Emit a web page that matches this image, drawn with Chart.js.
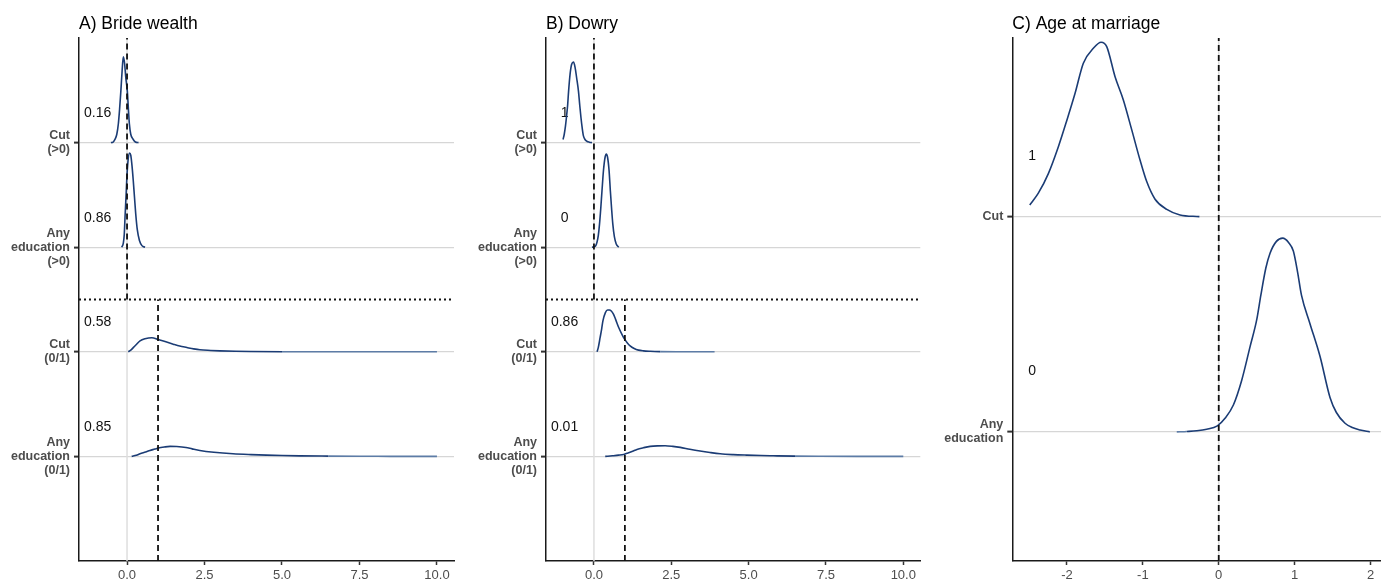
<!DOCTYPE html>
<html>
<head>
<meta charset="utf-8">
<script src="https://cdn.jsdelivr.net/npm/chart.js@4.4.1/dist/chart.umd.min.js"></script>
<style>
  html, body { margin: 0; padding: 0; background: #fff; }
  #wrap { position: relative; width: 1381px; height: 581px; overflow: hidden; background: #fff; }
  canvas { position: absolute; top: 0; }
</style>
</head>
<body>
<div id="wrap">
  <canvas id="panelA" width="470" height="581" style="left:0px"></canvas>
  <canvas id="panelB" width="460" height="581" style="left:470px"></canvas>
  <canvas id="panelC" width="451" height="581" style="left:930px"></canvas>
</div>
<script>
// ---- category labels (bottom to top) ----
const categoriesAB = [
  ['Any', 'education', '(0/1)'],
  ['Cut', '(0/1)'],
  ['Any', 'education', '(>0)'],
  ['Cut', '(>0)']
];
const categoriesC = [
  ['Any', 'education'],
  ['Cut']
];

// ---- posterior probability labels, same order as categories ----
const probBride = ['0.85', '0.58', '0.86', '0.16'];
const probDowry = ['0.01', '0.86', '0', '1'];
const probAge = ['0', '1'];

// ---- x tick values ----
const ticksAB = [0, 2.5, 5, 7.5, 10];
const ticksC = [-2, -1, 0, 1, 2];

// ---- ridge curves: [x, height above the category baseline] ----
const brideEduBin = [[0.15,0],[0.3,0.01],[0.42,0.025],[0.6,0.042],[0.74,0.057],[0.9,0.07],[1.01,0.08],[1.2,0.09],[1.39,0.096],[1.6,0.094],[1.9,0.085],[2.1,0.072],[2.35,0.057],[2.8,0.04],[3.42,0.025],[4.0,0.017],[4.5,0.012],[5.0,0.008],[5.58,0.005],[6.5,0.003],[7.5,0.0015],[8.5,0.0007],[10,0]];
const brideCutBin = [[0.04,0],[0.12,0.015],[0.2,0.04],[0.3,0.07],[0.42,0.105],[0.58,0.125],[0.8,0.135],[1.0,0.118],[1.2,0.1],[1.49,0.073],[1.7,0.055],[1.93,0.041],[2.15,0.028],[2.35,0.019],[2.7,0.013],[3.0,0.009],[3.5,0.005],[4.0,0.003],[5,0.001],[6,0.0005],[8,0],[10,0]];
const brideEduPos = [[-0.17,0],[-0.12,0.04],[-0.09,0.12],[-0.06,0.32],[-0.03,0.5],[-0.01,0.64],[0.03,0.82],[0.08,0.9],[0.12,0.88],[0.16,0.78],[0.2,0.64],[0.24,0.48],[0.28,0.32],[0.33,0.17],[0.40,0.064],[0.48,0.015],[0.58,0]];
const brideCutPos = [[-0.52,0],[-0.45,0.005],[-0.39,0.03],[-0.33,0.08],[-0.28,0.18],[-0.24,0.32],[-0.20,0.49],[-0.16,0.68],[-0.12,0.82],[-0.08,0.76],[-0.04,0.62],[0.01,0.49],[0.04,0.34],[0.075,0.18],[0.12,0.08],[0.2,0.03],[0.27,0.006],[0.37,0]];

const dowryEduBin = [[0.365,0],[0.6,0.006],[0.8,0.012],[0.96,0.019],[1.1,0.033],[1.25,0.05],[1.39,0.067],[1.6,0.083],[1.82,0.096],[2.05,0.101],[2.3,0.102],[2.55,0.096],[2.79,0.086],[3.1,0.068],[3.43,0.051],[3.75,0.037],[4.08,0.025],[4.5,0.017],[4.94,0.012],[5.4,0.008],[5.8,0.006],[6.5,0.003],[7.3,0.0015],[8.5,0.0006],[10,0]];
const dowryCutBin = [[0.1,0],[0.14,0.04],[0.2,0.137],[0.25,0.22],[0.29,0.296],[0.37,0.375],[0.44,0.40],[0.5,0.40],[0.56,0.39],[0.63,0.36],[0.7,0.31],[0.8,0.232],[0.9,0.17],[0.99,0.121],[1.08,0.085],[1.17,0.057],[1.3,0.032],[1.44,0.016],[1.6,0.009],[1.82,0.005],[2.14,0.002],[2.8,0.0005],[3.9,0]];
const dowryEduPos = [[-0.065,0],[0.05,0.01],[0.1,0.05],[0.14,0.11],[0.18,0.22],[0.22,0.37],[0.26,0.54],[0.31,0.74],[0.36,0.86],[0.40,0.89],[0.44,0.86],[0.49,0.73],[0.53,0.54],[0.57,0.37],[0.61,0.22],[0.66,0.1],[0.72,0.03],[0.8,0]];
const dowryCutPos = [[-1.0,0.03],[-0.96,0.08],[-0.92,0.16],[-0.89,0.24],[-0.85,0.36],[-0.82,0.49],[-0.77,0.66],[-0.72,0.75],[-0.66,0.77],[-0.61,0.72],[-0.56,0.62],[-0.5,0.49],[-0.46,0.36],[-0.42,0.24],[-0.38,0.14],[-0.34,0.064],[-0.29,0.03],[-0.23,0.013],[-0.15,0.004],[-0.065,0]];

const ageEdu = [[-0.553,0],[-0.42,0.002],[-0.29,0.005],[-0.158,0.012],[-0.018,0.028],[0.083,0.063],[0.193,0.125],[0.303,0.24],[0.413,0.396],[0.50,0.52],[0.555,0.635],[0.62,0.76],[0.676,0.83],[0.76,0.885],[0.843,0.90],[0.92,0.88],[0.983,0.84],[1.04,0.74],[1.09,0.635],[1.2,0.505],[1.335,0.35],[1.466,0.16],[1.55,0.09],[1.664,0.04],[1.76,0.02],[1.862,0.009],[1.99,0]];
const ageCut = [[-2.49,0.054],[-2.377,0.109],[-2.245,0.20],[-2.113,0.325],[-2.0,0.449],[-1.893,0.573],[-1.784,0.713],[-1.652,0.782],[-1.55,0.81],[-1.476,0.79],[-1.366,0.65],[-1.257,0.542],[-1.146,0.403],[-1.037,0.263],[-0.949,0.163],[-0.839,0.081],[-0.685,0.034],[-0.51,0.008],[-0.255,0]];

// ---- reference values ----
const nullTopAB = 0;      // dashed reference for the (>0) rows
const nullBottomAB = 1;   // dashed reference for the (0/1) rows
const splitAB = 2.5;      // dotted divider between row groups
const nullC = 0;

const FONT = '"Liberation Sans", Arial, Helvetica, sans-serif';
const LINE = '#1b3c75';
const TAIL = '#5d7ca6';

function ridgeDataset(points, level) {
  return {
    data: points.map(p => ({ x: p[0], y: level + p[1] })),
    showLine: true,
    borderColor: LINE,
    borderWidth: 1.6,
    pointRadius: 0,
    cubicInterpolationMode: 'monotone',
    fill: false,
    order: 3,
    segment: {
      borderColor: ctx => (ctx.p0.parsed.y - level < 0.003 && ctx.p1.parsed.y - level < 0.003) ? TAIL : undefined
    }
  };
}

function lineDataset(pts, color, width, dash, order) {
  return {
    data: pts.map(p => ({ x: p[0], y: p[1] })),
    showLine: true,
    borderColor: color,
    borderWidth: width,
    borderDash: dash,
    pointRadius: 0,
    fill: false,
    order: order
  };
}

function makePanel(id, cfg) {
  const datasets = [];
  cfg.refs.forEach(r => datasets.push(r));
  cfg.curves.forEach((c, i) => datasets.push(ridgeDataset(c, i + 1)));

  const panelText = {
    id: 'panelText',
    beforeDatasetsDraw(chart) {
      const ctx = chart.ctx;
      const xs = chart.scales.x, ys = chart.scales.y;
      ctx.save();
      ctx.fillStyle = '#111';
      ctx.font = '14px ' + FONT;
      ctx.textAlign = 'center';
      ctx.textBaseline = 'middle';
      cfg.probs.forEach((t, i) => {
        ctx.fillText(t, xs.getPixelForValue(cfg.labelX), ys.getPixelForValue(i + 1 + 0.28));
      });
      ctx.restore();
    },
    afterDraw(chart) {
      const ctx = chart.ctx;
      ctx.save();
      ctx.fillStyle = '#000';
      ctx.font = '17.5px ' + FONT;
      ctx.textAlign = 'left';
      ctx.textBaseline = 'alphabetic';
      ctx.fillText(cfg.title, chart.chartArea.left, 28.5);
      ctx.restore();
    }
  };

  return new Chart(document.getElementById(id), {
    type: 'scatter',
    data: { datasets },
    plugins: [panelText],
    options: {
      responsive: false,
      animation: false,
      events: [],
      layout: { padding: { top: 38, right: cfg.padRight, left: 0, bottom: 0 } },
      plugins: { legend: { display: false }, tooltip: { enabled: false } },
      scales: {
        x: {
          type: 'linear',
          min: cfg.xMin,
          max: cfg.xMax,
          afterBuildTicks: s => { s.ticks = cfg.xTicks.map(v => ({ value: v })); },
          afterFit: s => { s.height = 20; s.paddingLeft = 0; s.paddingRight = 0; },
          ticks: {
            callback: cfg.fmt,
            color: '#4d4d4d',
            font: { family: FONT, size: 13 },
            padding: 3,
            maxRotation: 0,
            autoSkip: false
          },
          grid: { drawOnChartArea: false, drawTicks: true, tickLength: 4, tickColor: '#333', tickWidth: 1.5, color: '#333' },
          border: { display: true, color: '#1a1a1a', width: 1.5 }
        },
        y: {
          type: 'linear',
          min: cfg.yMin,
          max: cfg.yMax,
          afterBuildTicks: s => { s.ticks = cfg.cats.map((c, i) => ({ value: i + 1 })); },
          afterFit: s => { s.width = cfg.axisW; s.paddingTop = 0; s.paddingBottom = 0; },
          ticks: {
            callback: v => cfg.cats[Math.round(v) - 1],
            color: '#4d4d4d',
            font: { family: FONT, size: 12.5, weight: 'bold', lineHeight: 1.12 },
            padding: 4,
            autoSkip: false
          },
          grid: { color: '#d6d6d6', lineWidth: 1.2, tickLength: 5, tickColor: '#333', tickWidth: 2 },
          border: { display: true, color: '#1a1a1a', width: 1.5 }
        }
      }
    }
  });
}

const fmtAB = v => Number(v).toFixed(1);
const fmtC = v => String(v);

function refsAB(xMin, xMax, yMin, yMax) {
  return [
    lineDataset([[0, yMin], [0, yMax]], '#dedede', 1.5, [], 6),
    lineDataset([[nullTopAB, splitAB], [nullTopAB, yMax]], '#111', 1.8, [6, 4], 1),
    lineDataset([[nullBottomAB, yMin], [nullBottomAB, splitAB]], '#111', 1.8, [6, 4], 1),
    lineDataset([[xMin, splitAB], [xMax, splitAB]], '#111', 1.8, [2, 3], 1)
  ];
}

makePanel('panelA', {
  title: 'A) Bride wealth',
  cats: categoriesAB,
  curves: [brideEduBin, brideCutBin, brideEduPos, brideCutPos],
  probs: probBride,
  labelX: -0.95,
  xMin: -1.55, xMax: 10.55, yMin: 0, yMax: 5,
  xTicks: ticksAB, fmt: fmtAB,
  axisW: 79, padRight: 16,
  refs: refsAB(-1.55, 10.55, 0, 5)
});

makePanel('panelB', {
  title: 'B) Dowry',
  cats: categoriesAB,
  curves: [dowryEduBin, dowryCutBin, dowryEduPos, dowryCutPos],
  probs: probDowry,
  labelX: -0.95,
  xMin: -1.55, xMax: 10.55, yMin: 0, yMax: 5,
  xTicks: ticksAB, fmt: fmtAB,
  axisW: 76, padRight: 9.7,
  refs: refsAB(-1.55, 10.55, 0, 5)
});

makePanel('panelC', {
  title: 'C) Age at marriage',
  cats: categoriesC,
  curves: [ageEdu, ageCut],
  probs: probAge,
  labelX: -2.46,
  xMin: -2.72, xMax: 2.138, yMin: 0.40, yMax: 2.83,
  xTicks: ticksC, fmt: fmtC,
  axisW: 82.3, padRight: 0,
  refs: [
    lineDataset([[0, 0.40], [0, 2.83]], '#dedede', 1.5, [], 6),
    lineDataset([[nullC, 0.40], [nullC, 2.83]], '#111', 1.8, [6, 4], 1)
  ]
});
</script>
</body>
</html>
